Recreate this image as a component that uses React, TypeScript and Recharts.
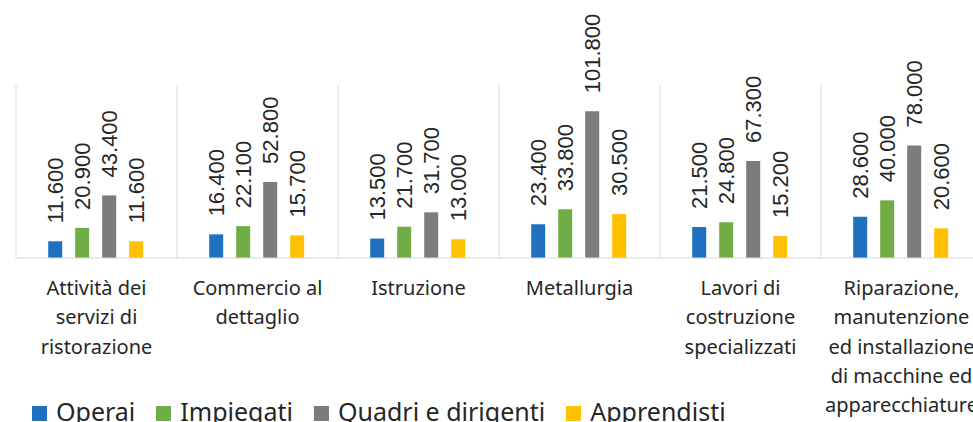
import React from 'react';
import {
  BarChart,
  Bar,
  XAxis,
  YAxis,
  CartesianGrid,
  Legend,
} from 'recharts';

// Categories (line breaks as in the original labels)
const categories = [
  'Attività dei\nservizi di\nristorazione',
  'Commercio al\ndettaglio',
  'Istruzione',
  'Metallurgia',
  'Lavori di\ncostruzione\nspecializzati',
  'Riparazione,\nmanutenzione\ned installazione\ndi macchine ed\napparecchiature',
];

const operai = [11600, 16400, 13500, 23400, 21500, 28600];
const impiegati = [20900, 22100, 21700, 33800, 24800, 40000];
const quadri = [43400, 52800, 31700, 101800, 67300, 78000];
const apprendisti = [11600, 15700, 13000, 30500, 15200, 20600];

const series = [
  { key: 'operai', name: 'Operai', color: '#1f70c1' },
  { key: 'impiegati', name: 'Impiegati', color: '#70ad47' },
  { key: 'quadri', name: 'Quadri e dirigenti', color: '#7b7b80' },
  { key: 'apprendisti', name: 'Apprendisti', color: '#ffc000' },
];

const chartData = categories.map((name, i) => ({
  name,
  operai: operai[i],
  impiegati: impiegati[i],
  quadri: quadri[i],
  apprendisti: apprendisti[i],
}));

const LABEL_FONT = '"Liberation Sans", Arial, sans-serif';
const TEXT_FONT = '"Noto Sans", "Open Sans", sans-serif';

const fmt = (v: number) => String(v).replace(/\B(?=(\d{3})+(?!\d))/g, '.');

const RotatedLabel = (props: any) => {
  const { x, y, width, value } = props;
  const cx = Number(x) + Number(width) / 2;
  const ty = Number(y) - 18;
  return (
    <text
      x={cx}
      y={ty}
      transform={`rotate(-90 ${cx} ${ty})`}
      textAnchor="start"
      dominantBaseline="central"
      fontFamily={LABEL_FONT}
      fontSize={22}
      fill="#262626"
    >
      {fmt(value)}
    </text>
  );
};

const CategoryTick = (props: any) => {
  const { x, y, payload } = props;
  const lines = String(payload.value).split('\n');
  return (
    <text
      x={x}
      y={y}
      textAnchor="middle"
      fontFamily={TEXT_FONT}
      fontSize={20}
      fill="#262626"
    >
      {lines.map((line, i) => (
        <tspan key={i} x={x} y={Number(y) + 29 + i * 29.3}>
          {line}
        </tspan>
      ))}
    </text>
  );
};

const LegendContent = () => (
  <div
    style={{
      display: 'flex',
      alignItems: 'center',
      paddingLeft: 16,
      paddingTop: 1,
      fontFamily: TEXT_FONT,
      fontSize: 25,
      color: '#262626',
      lineHeight: '24px',
      whiteSpace: 'nowrap',
    }}
  >
    {series.map((s) => (
      <div key={s.key} style={{ display: 'flex', alignItems: 'center', marginRight: 21 }}>
        <span
          style={{
            display: 'inline-block',
            width: 15,
            height: 15,
            background: s.color,
            marginRight: 9,
            marginTop: 4,
          }}
        />
        <span>{s.name}</span>
      </div>
    ))}
  </div>
);

const App: React.FC = () => {
  const verticalLines = ({ offset }: any) => {
    const step = offset.width / categories.length;
    return categories.map((_, i) => offset.left + i * step).concat(offset.left + offset.width);
  };

  return (
    <div
      style={{
        position: 'fixed',
        left: 0,
        top: 0,
        width: 973,
        height: 422,
        overflow: 'hidden',
        background: '#ffffff',
      }}
    >
      <BarChart
        width={1000}
        height={422}
        data={chartData}
        margin={{ top: 85, right: 18, left: 16, bottom: 0 }}
        barCategoryGap="20%"
        barGap={13}
      >
        <CartesianGrid
          horizontal={false}
          vertical
          stroke="#d9d9d9"
          verticalCoordinatesGenerator={verticalLines}
        />
        <XAxis
          dataKey="name"
          height={140}
          interval={0}
          tickLine={false}
          axisLine={{ stroke: '#d9d9d9' }}
          tick={<CategoryTick />}
        />
        <YAxis hide domain={[0, 120000]} />
        <Legend verticalAlign="bottom" height={24} content={<LegendContent />} />
        {series.map((s) => (
          <Bar
            key={s.key}
            dataKey={s.key}
            name={s.name}
            fill={s.color}
            isAnimationActive={false}
            label={<RotatedLabel />}
          />
        ))}
      </BarChart>
    </div>
  );
};

export default App;
